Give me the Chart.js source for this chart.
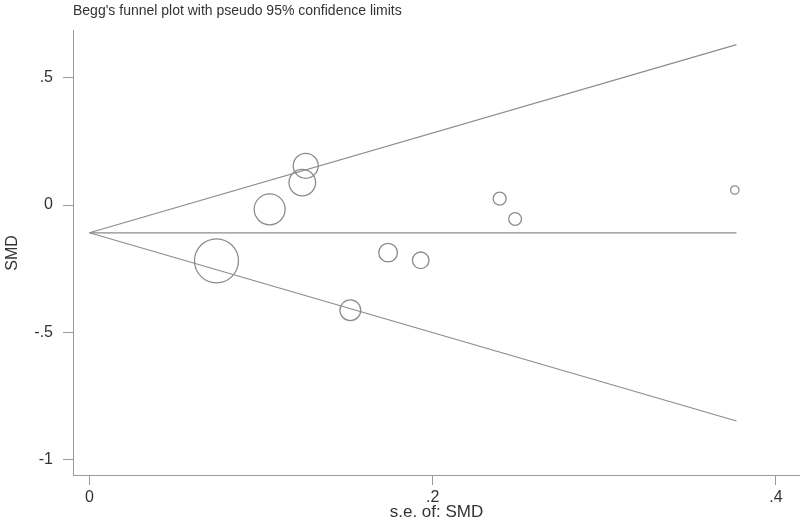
<!DOCTYPE html>
<html>
<head>
<meta charset="utf-8">
<script src="https://cdn.jsdelivr.net/npm/chart.js@4/dist/chart.umd.min.js"></script>
<style>
  html, body { margin: 0; padding: 0; background: #fff; }
  #wrap { width: 800px; height: 521px; position: relative; }
</style>
</head>
<body>
<div id="wrap"><canvas id="funnelChart"></canvas></div>
<script>
// studies: standard error, effect size (SMD) and marker size
const studySe = [0.074, 0.105, 0.124, 0.126, 0.152, 0.174, 0.193, 0.239, 0.248, 0.376];
const studySmd = [-0.219, -0.017, 0.088, 0.154, -0.413, -0.187, -0.217, 0.025, -0.055, 0.059];
const studySize = [22, 15.5, 13.3, 12.5, 10.4, 9.3, 8.3, 6.5, 6.4, 4.2];

// pooled estimate and pseudo 95% limits
const funnelSe = [0, 0.377];
const pooled = [-0.109, -0.109];
const upperLimit = [-0.109, 0.630];
const lowerLimit = [-0.109, -0.848];

const xTicks = [0, 0.2, 0.4];
const yTicks = [-1, -0.5, 0, 0.5];

const fontFamily = "'Liberation Sans', Arial, sans-serif";
const lineGrey = '#8c8c8c';
const axisGrey = '#9a9a9a';
const textColor = '#333';

const stataLabel = v => (v === 0 ? '0' : String(v).replace('0.', '.'));
const asLine = ys => funnelSe.map((x, i) => ({ x, y: ys[i] }));
const lineDataset = ys => ({
  type: 'line',
  data: asLine(ys),
  borderColor: lineGrey,
  borderWidth: 1.2,
  pointRadius: 0,
  fill: false,
});

const bubbles = studySe.map((x, i) => ({ x, y: studySmd[i], r: studySize[i] }));

const ctx = document.getElementById('funnelChart').getContext('2d');
new Chart(ctx, {
  type: 'bubble',
  data: {
    datasets: [
      lineDataset(upperLimit),
      lineDataset(pooled),
      lineDataset(lowerLimit),
      {
        data: bubbles,
        backgroundColor: 'rgba(0,0,0,0)',
        borderColor: lineGrey,
        borderWidth: 1.3,
      },
    ],
  },
  options: {
    responsive: true,
    maintainAspectRatio: false,
    animation: false,
    events: [],
    layout: { padding: 0, autoPadding: false },
    plugins: {
      legend: { display: false },
      tooltip: { enabled: false },
      title: {
        display: true,
        text: "Begg's funnel plot with pseudo 95% confidence limits",
        align: 'start',
        fullSize: false,
        color: textColor,
        font: { family: fontFamily, size: 14, weight: 'normal' },
        padding: { top: 3, bottom: 11 },
      },
    },
    scales: {
      x: {
        type: 'linear',
        min: -0.0096,
        max: 0.414,
        afterBuildTicks: s => { s.ticks = xTicks.map(value => ({ value })); },
        afterFit: s => { s.height = 46; },
        grid: { drawOnChartArea: false, drawTicks: true, tickLength: 10, color: axisGrey },
        border: { display: true, color: axisGrey, width: 1 },
        ticks: {
          padding: 3,
          color: textColor,
          font: { family: fontFamily, size: 16 },
          callback: v => stataLabel(v),
          maxRotation: 0,
        },
        title: {
          display: true,
          text: 's.e. of: SMD',
          color: textColor,
          font: { family: fontFamily, size: 17 },
          padding: { top: 0, bottom: -2 },
        },
      },
      y: {
        type: 'linear',
        min: -1.06,
        max: 0.684,
        afterBuildTicks: s => { s.ticks = yTicks.map(value => ({ value })); },
        afterFit: s => { s.width = 73; },
        grid: { drawOnChartArea: false, drawTicks: true, tickLength: 10, color: axisGrey },
        border: { display: true, color: axisGrey, width: 1 },
        ticks: {
          padding: 10,
          color: textColor,
          font: { family: fontFamily, size: 16 },
          callback: v => stataLabel(v),
        },
        title: {
          display: true,
          text: 'SMD',
          color: textColor,
          font: { family: fontFamily, size: 16 },
          padding: { top: 3, bottom: 0 },
        },
      },
    },
  },
});
</script>
</body>
</html>
